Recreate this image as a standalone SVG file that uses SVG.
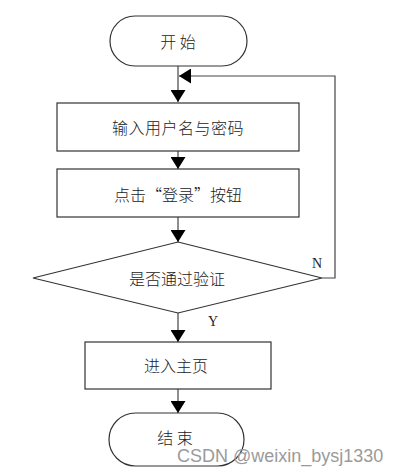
<svg xmlns="http://www.w3.org/2000/svg" width="409" height="474" viewBox="0 0 409 474">
<defs>
<style>
.shape{fill:#fff;stroke:#333;stroke-width:1.2}
.line{fill:none;stroke:#444;stroke-width:1.2}
.t{font-family:"Noto Sans CJK SC","Noto Sans CJK JP",sans-serif;font-size:16px;fill:#222;text-anchor:middle;dominant-baseline:central;font-weight:300}
.lbl{font-family:"Liberation Serif",serif;font-size:14px;fill:#222}
.wm{font-family:"Liberation Sans",Arial,sans-serif;font-size:18px;fill:#9a9a9a}
</style>
<marker id="arr" viewBox="0 0 12 15" refX="12" refY="7.5" markerWidth="12" markerHeight="15" markerUnits="userSpaceOnUse" orient="auto">
<path d="M0,0 L12,7.5 L0,15 Z" fill="#000"/>
</marker>
</defs>
<rect width="409" height="474" fill="#fff"/>
<g id="connectors">
<line class="line" x1="178" y1="66" x2="178" y2="102" marker-end="url(#arr)"/>
<line class="line" x1="178" y1="151" x2="178" y2="169" marker-end="url(#arr)"/>
<line class="line" x1="178" y1="217" x2="178" y2="242" marker-end="url(#arr)"/>
<line class="line" x1="178" y1="313" x2="178" y2="342" marker-end="url(#arr)"/>
<line class="line" x1="178" y1="389" x2="178" y2="413" marker-end="url(#arr)"/>
<polyline class="line" points="322,278 335,278 335,76 179,76" marker-end="url(#arr)"/>
<text class="lbl" x="312" y="268">N</text>
<text class="lbl" x="208" y="326">Y</text>
</g>
<g id="start">
<rect class="shape" x="110" y="16" width="137" height="50" rx="25" ry="25"/>
<text class="t" x="178" y="41">开 始</text>
</g>
<g id="input">
<rect class="shape" x="57" y="103" width="242" height="48"/>
<text class="t" x="178" y="127" letter-spacing="0.5">输入用户名与密码</text>
</g>
<g id="click">
<rect class="shape" x="57" y="169" width="242" height="48"/>
<text class="t" x="178" y="194">点击“登录”按钮</text>
</g>
<g id="verify">
<polygon class="shape" points="178,242 322,278 178,313 33,278"/>
<text class="t" x="177" y="278">是否通过验证</text>
</g>
<g id="home">
<rect class="shape" x="85" y="342" width="186" height="47"/>
<text class="t" x="176" y="365">进入主页</text>
</g>
<g id="end">
<rect class="shape" x="109" y="413" width="135" height="53" rx="26.5" ry="26.5"/>
<text class="t" x="175" y="437">结 束</text>
</g>
<text class="wm" x="177" y="462">CSDN @weixin_bysj1330</text>
</svg>
